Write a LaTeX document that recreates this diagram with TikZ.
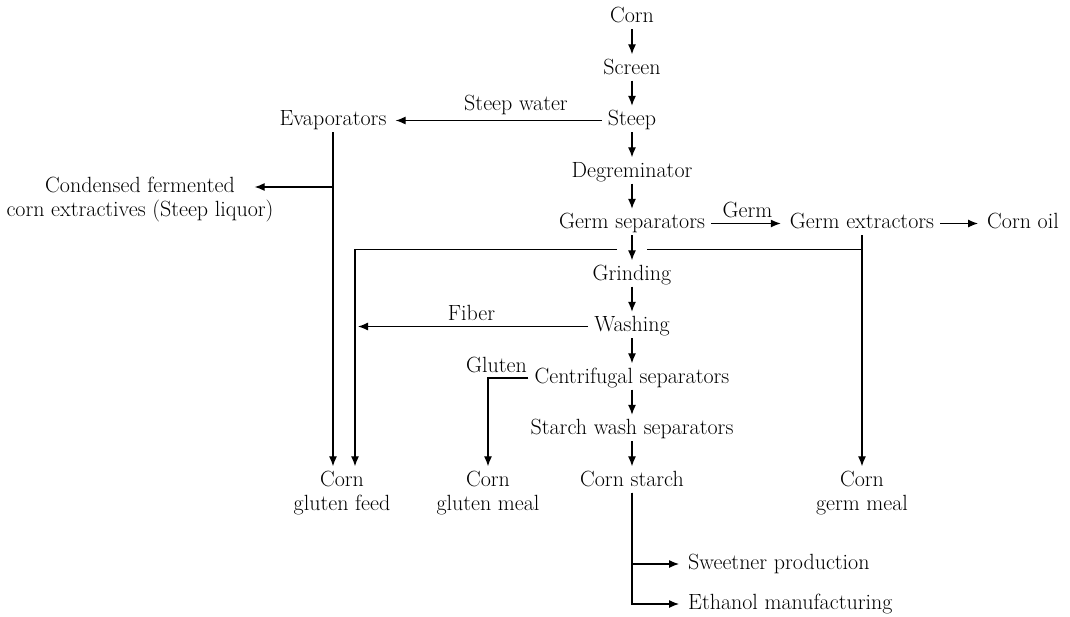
\documentclass[tikz,border=0pt]{standalone}
\usetikzlibrary{arrows.meta,positioning}

\begin{document}
\begin{tikzpicture}[x=1pt,y=1pt,node distance=51.5pt,on grid,
    every node/.style={font=\fontsize{22}{24.5}\selectfont},
    proc/.style={text height=15pt,text depth=5pt,inner xsep=6pt,inner ysep=1.5pt},
    prod/.style={align=center,inner xsep=6pt,inner ysep=1.5pt},
    flowtext/.style={inner sep=5pt},
    wire/.style={line width=1.2pt},
    flow/.style={wire,-{Latex[length=10pt,width=8pt]},shorten >=3pt}]
  \useasboundingbox (0,0) rectangle (1070,-616);
  % main line
  \node[proc] (corn) at (632,-17.5) {Corn};
  \node[proc] [below=of corn] (screen) {Screen};
  \node[proc] [below=of screen] (steep) {Steep};
  \node[proc] [below=of steep] (degerm) {Degreminator};
  \node[proc] [below=of degerm] (germsep) {Germ separators};
  \node[proc] [below=of germsep] (grind) {Grinding};
  \node[proc] [below=of grind] (wash) {Washing};
  \node[proc] [below=of wash] (centri) {Centrifugal separators};
  \node[proc] [below=of centri] (starchwash) {Starch wash separators};
  \node[proc] [below=of starchwash] (starch) {Corn starch};
  % side streams
  \node[proc] [left=299pt of steep] (evap) {Evaporators};
  \node[prod] [below left=79pt and 193pt of evap] (liquor) {Condensed fermented\\corn extractives (Steep liquor)};
  \node[proc] [right=230pt of germsep] (germext) {Germ extractors};
  \node[proc] [right=161pt of germext] (oil) {Corn oil};
  % products
  \node[prod] [left=290pt of starch.north,anchor=north] (feed) {Corn\\gluten feed};
  \node[prod] [left=144pt of starch.north,anchor=north] (meal) {Corn\\gluten meal};
  \node[prod] [right=230pt of starch.north,anchor=north] (germmeal) {Corn\\germ meal};
  \node[proc] [below right=83pt and 50pt of starch,anchor=west] (sweet) {Sweetner production};
  \node[proc] [below=40pt of sweet.west,anchor=west] (ethanol) {Ethanol manufacturing};
  % helper points
  \coordinate[below=25.75pt of germsep] (split);
  \coordinate[left=15pt of split] (splitL);
  \coordinate[right=15pt of split] (splitR);
  \coordinate (feedR) at ([xshift=13pt]feed.north);
  \coordinate (liquorIn) at ([xshift=-28pt,yshift=12.5pt]liquor.east);

  \path[flow]
    (corn) edge (screen)
    (screen) edge (steep)
    (steep) edge (degerm)
           edge node[flowtext,above,pos=0.41] {Steep water} (evap)
    (degerm) edge (germsep)
    (germsep) edge (grind)
              edge node[flowtext,above] {Germ} (germext)
    (germext) edge (oil)
              edge (germmeal)
    (grind) edge (wash)
    (wash) edge (centri)
    (centri) edge (starchwash)
    (starchwash) edge (starch);

  \draw[flow] (evap) -- (evap |- feed.north);
  \draw[flow] (evap |- liquorIn) -- (liquorIn);
  \draw[wire] (splitR) -- (splitR -| germext);
  \draw[flow] (splitL) -| (feedR);
  \draw[flow] (wash) -- node[flowtext,above] {Fiber} (wash -| feedR);
  \draw[flow] (centri.west) node[flowtext,anchor=south east,xshift=4pt] {Gluten} -| (meal);
  \draw[flow] (starch) |- (sweet);
  \draw[flow] (starch) |- (ethanol);
\end{tikzpicture}
\end{document}
